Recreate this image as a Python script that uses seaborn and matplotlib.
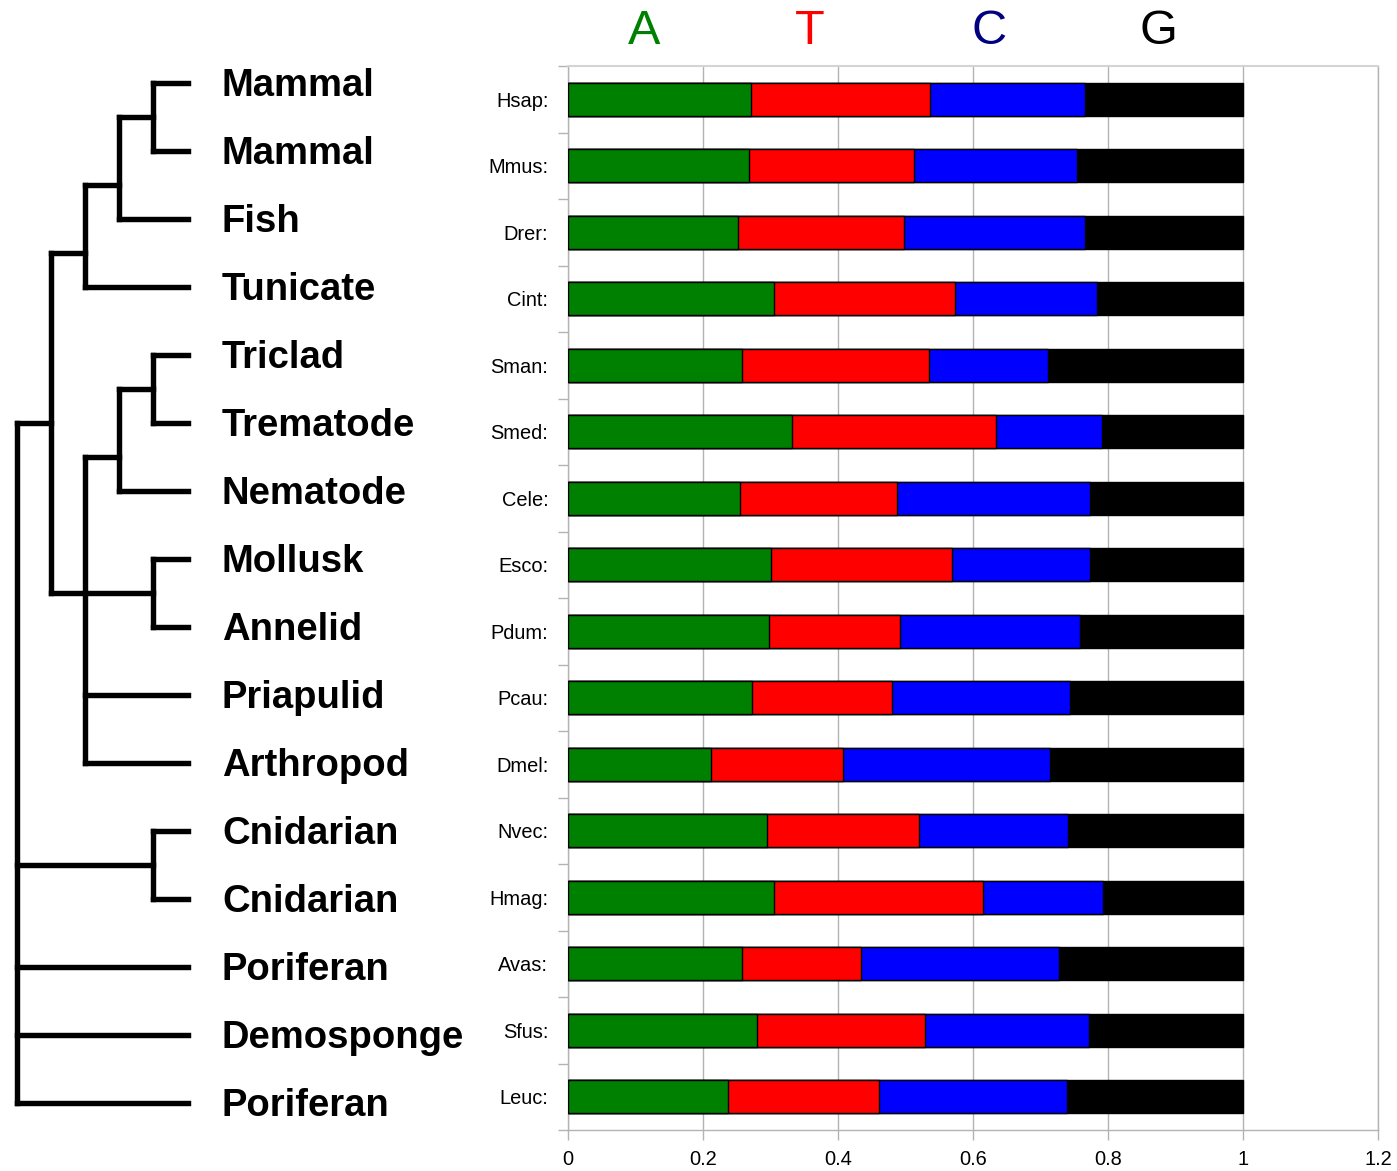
import numpy as np
import pandas as pd
import matplotlib
matplotlib.use("Agg")
import matplotlib.pyplot as plt
import seaborn as sns

# ---- data -----------------------------------------------------------------
species = ["Hsap:", "Mmus:", "Drer:", "Cint:", "Sman:", "Smed:", "Cele:", "Esco:",
           "Pdum:", "Pcau:", "Dmel:", "Nvec:", "Hmag:", "Avas:", "Sfus:", "Leuc:"]

frac_A = [0.270, 0.268, 0.252, 0.304, 0.258, 0.332, 0.255, 0.301,
          0.297, 0.272, 0.211, 0.294, 0.304, 0.258, 0.279, 0.237]
frac_T = [0.266, 0.244, 0.246, 0.269, 0.276, 0.301, 0.232, 0.268,
          0.195, 0.207, 0.196, 0.225, 0.311, 0.176, 0.250, 0.224]
frac_C = [0.230, 0.242, 0.267, 0.210, 0.177, 0.158, 0.286, 0.204,
          0.266, 0.264, 0.307, 0.222, 0.177, 0.293, 0.243, 0.278]
frac_G = [0.234, 0.246, 0.235, 0.217, 0.289, 0.209, 0.227, 0.227,
          0.242, 0.257, 0.286, 0.259, 0.208, 0.273, 0.228, 0.261]

bases = ["A", "T", "C", "G"]
base_colors = ["#008000", "#ff0000", "#0000ff", "#000000"]
header_colors = ["#008000", "#ff0000", "#000080", "#000000"]

taxa = ["Mammal", "Mammal", "Fish", "Tunicate", "Triclad", "Trematode", "Nematode",
        "Mollusk", "Annelid", "Priapulid", "Arthropod", "Cnidarian", "Cnidarian",
        "Poriferan", "Demosponge", "Poriferan"]

x_ticks = [0, 0.2, 0.4, 0.6, 0.8, 1.0, 1.2]
x_tick_labels = ["0", "0.2", "0.4", "0.6", "0.8", "1", "1.2"]

# tree topology: leaves are indices into `taxa`, internal nodes carry a depth level
tree = {"level": 0, "children": [
    {"level": 1, "children": [
        {"level": 2, "children": [
            {"level": 3, "children": [{"level": 4, "children": [0, 1]}, 2]}, 3]},
        {"level": 2, "anchor": 1, "children": [
            {"level": 3, "children": [{"level": 4, "children": [4, 5]}, 6]},
            {"level": 4, "children": [7, 8]}, 9, 10]}]},
    {"level": 4, "children": [11, 12]}, 13, 14, 15]}

# ---- style ----------------------------------------------------------------
sns.set_style("white")
plt.rcParams["font.family"] = ["Liberation Sans", "DejaVu Sans"]
plt.rcParams["text.color"] = "black"
plt.rcParams["xtick.labelcolor"] = "black"
plt.rcParams["ytick.labelcolor"] = "black"
GRID = "#b3b3b3"

W, H = 1397, 1171
fig = plt.figure(figsize=(W / 100, H / 100), dpi=100)

# ---- stacked composition bars ---------------------------------------------
x0, x1 = 568.3, 1378.3
y_top, y_bot = 66, 1130
ax = fig.add_axes([x0 / W, 1 - y_bot / H, (x1 - x0) / W, (y_bot - y_top) / H])

df = pd.DataFrame({"species": species, "A": frac_A, "T": frac_T, "C": frac_C, "G": frac_G})
cum = df[bases].cumsum(axis=1)
for base, color in reversed(list(zip(bases, base_colors))):
    sns.barplot(x=cum[base], y=df["species"], orient="h", order=species,
                color=color, saturation=1, width=0.5, edgecolor="black",
                linewidth=1, errorbar=None, ax=ax, zorder=3)

ax.set_xlim(0, 1.2)
ax.set_ylim(len(species) - 0.5, -0.5)
ax.set_xlabel("")
ax.set_ylabel("")
ax.set_xticks(x_ticks)
ax.set_xticklabels(x_tick_labels, fontsize=14.4, color="black")
ax.set_yticks(range(len(species)))
ax.set_yticklabels(species, fontsize=14.4, color="black")
ax.set_yticks(np.arange(-0.5, len(species)), minor=True)
ax.tick_params(axis="y", which="major", length=0, pad=14.4)
ax.tick_params(axis="y", which="minor", length=7.5, width=1, color=GRID, left=True)
ax.tick_params(axis="x", which="major", length=7.5, width=1, color=GRID, bottom=True, pad=7)
ax.xaxis.grid(True, color=GRID, linewidth=1)
ax.yaxis.grid(False)
ax.set_axisbelow(True)
for side in ["left", "right", "top", "bottom"]:
    ax.spines[side].set_visible(True)
    ax.spines[side].set_color(GRID)
    ax.spines[side].set_linewidth(1)
ax.spines["top"].set_color("#d4d4d4")
ax.spines["top"].set_linewidth(1.5)

header_x = [0.112, 0.357, 0.623, 0.875]
for letter, color, hx in zip(bases, header_colors, header_x):
    ax.text(hx, 1 - 31 / H, letter, color=color, fontsize=35,
            ha="center", va="center",
            transform=matplotlib.transforms.blended_transform_factory(ax.transData, fig.transFigure))

# ---- dendrogram -----------------------------------------------------------
lvl0, lvl_step = 16.5, 34.1
leaf_top, leaf_step = 83, 68
tree_right = 220
tax = fig.add_axes([0, 1 - (leaf_top + leaf_step * 15.5) / H, tree_right / W, leaf_step * 16 / H])
tax.set_xlim(-lvl0 / lvl_step, (tree_right - lvl0) / lvl_step)
tax.set_ylim(15.5, -0.5)
tax.axis("off")

LEAF_END = (188 - lvl0) / lvl_step
LW = 3.9
line_kw = dict(color="black", linewidth=LW, solid_capstyle="projecting")


def draw(node):
    if isinstance(node, int):
        return float(node), LEAF_END
    ys, weights = [], []
    for child in node["children"]:
        cy, cx = draw(child)
        tax.plot([node["level"], cx], [cy, cy], **line_kw)
        ys.append(cy)
        weights.append(2 if isinstance(child, int) else 1)
    tax.plot([node["level"]] * 2, [min(ys), max(ys)], **line_kw)
    if "anchor" in node:
        y = ys[node["anchor"]]
    else:
        y = float(np.average(ys, weights=weights))
    return y, node["level"]


draw(tree)

label_x = (222 - lvl0) / lvl_step
for i, name in enumerate(taxa):
    tax.text(label_x, i + 0.19, name, fontsize=27.5, fontweight="bold",
             ha="left", va="baseline", clip_on=False)

fig.savefig("out.png", dpi=100)
